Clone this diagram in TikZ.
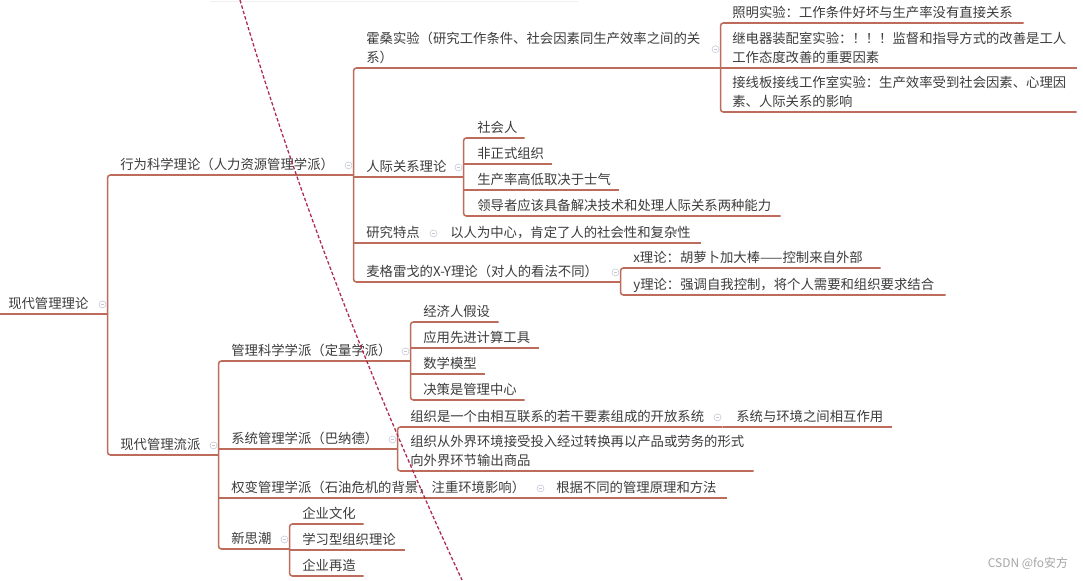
\documentclass[tikz,border=0pt]{standalone}
\usepackage{fontspec}
\newfontfamily\cjk{Noto Sans CJK SC}
\newlength{\pxw}
\setlength{\pxw}{0.025cm}
\definecolor{branchred}{RGB}{189,108,92}
\definecolor{textgray}{RGB}{60,60,60}
\definecolor{foldgray}{RGB}{195,200,214}
\definecolor{markred}{RGB}{176,40,80}

\begin{document}
\begin{tikzpicture}
[x=0.025cm,y=-0.025cm,
 topic/.style={anchor=south west,inner xsep=0pt,inner ysep=0pt,align=left,text=textgray,
   font=\cjk\fontsize{9.5pt}{13.2pt}\selectfont,
   execute at begin node=\strut,execute at end node=\strut},
 branch/.style={draw=branchred,line width=1.1pt,rounded corners=2pt},
 fold/.style={circle,draw=foldgray,line width=0.4pt,minimum size=5pt,inner sep=0pt,
   path picture={\draw[foldgray] ([xshift=-1.3pt]path picture bounding box.center) -- ([xshift=1.3pt]path picture bounding box.center);}}]
\fill[white] (0,0) rectangle (1083,580);
\useasboundingbox (0,0) rectangle (1083,580);
\draw[black!6] (210,1) -- (578,1);
\node[topic,text width=99\pxw] (root) at (8,314) {现代管理理论};
\node[topic,text width=233\pxw] (xw) at (120,175) {行为科学理论（人力资源管理学派）};
\node[topic,text width=98\pxw] (xp) at (120,455) {现代管理流派};
\node[topic,text width=354\pxw] (hs) at (366,68) {霍桑实验（研究工作条件、社会因素同生产效率之间的关\\系）};
\node[topic,text width=97\pxw] (rj) at (366,177) {人际关系理论};
\node[topic,text width=72\pxw] (yj) at (366,243) {研究特点};
\node[topic,text width=254\pxw] (mg) at (366,282) {麦格雷戈的X-Y理论（对人的看法不同）};
\node[topic,text width=291\pxw] (zm) at (732,23) {照明实验：工作条件好坏与生产率没有直接关系};
\node[topic,text width=344\pxw] (jd) at (732,68) {继电器装配室实验：！！！监督和指导方式的改善是工人\\工作态度改善的重要因素};
\node[topic,text width=344\pxw] (jx) at (732,112) {接线板接线工作室实验：生产效率受到社会因素、心理因\\素、人际关系的影响};
\node[topic,text width=47\pxw] (sh) at (477,138) {社会人};
\node[topic,text width=74\pxw] (fz) at (477,164) {非正式组织};
\node[topic,text width=141\pxw] (sc) at (477,190) {生产率高低取决于士气};
\node[topic,text width=303\pxw] (ld) at (477,216) {领导者应该具备解决技术和处理人际关系两种能力};
\node[topic,text width=250\pxw] (yr) at (450,243) {以人为中心，肯定了人的社会性和复杂性};
\node[topic,text width=247\pxw] (xl) at (633,268) {x理论：胡萝卜加大棒——控制来自外部};
\node[topic,text width=312\pxw] (yl) at (633,295) {y理论：强调自我控制，将个人需要和组织要求结合};
\node[topic,text width=179\pxw] (gk) at (231,361) {管理科学学派（定量学派）};
\node[topic,text width=166\pxw] (xt) at (231,449) {系统管理学派（巴纳德）};
\node[topic,text width=314\pxw] (qb) at (231,498) {权变管理学派（石油危机的背景，注重环境影响）};
\node[topic,text width=58\pxw] (xs) at (231,549) {新思潮};
\node[topic,text width=75\pxw] (jj) at (423,322) {经济人假设};
\node[topic,text width=115\pxw] (yy) at (423,348) {应用先进计算工具};
\node[topic,text width=61\pxw] (sx) at (423,374) {数学模型};
\node[topic,text width=101\pxw] (jc) at (423,400) {决策是管理中心};
\node[topic,text width=312\pxw] (zz) at (410,427) {组织是一个由相互联系的若干要素组成的开放系统};
\node[topic,text width=343\pxw] (zw) at (410,471) {组织从外界环境接受投入经过转换再以产品或劳务的形式\\向外界环节输出商品};
\node[topic,text width=155\pxw] (hx) at (736,427) {系统与环境之间相互作用};
\node[topic,text width=170\pxw] (gj) at (556,498) {根据不同的管理原理和方法};
\node[topic,text width=61\pxw] (qw) at (302,524) {企业文化};
\node[topic,text width=102\pxw] (xx) at (302,550) {学习型组织理论};
\node[topic,text width=61\pxw] (qz) at (302,576) {企业再造};
\node[anchor=east,text=black!35,font=\cjk\fontsize{8.5pt}{10pt}\selectfont] (mark) at (1073,563) {CSDN @fo安方};
\draw[branch] ([xshift=-5.7pt]root.south west) -- (root.south east);
\foreach \from/\first/\last in {root/xw/xp,xw/hs/mg,hs/zm/jx,rj/sh/ld,mg/xl/yl,xp/gk/xs,gk/jj/jc,xt/zz/zw,xs/qw/qz}
\draw[branch] (\first.south east) -- (\from.south east |- \first.south) -- (\from.south east |- \last.south) -- (\last.south east);
\foreach \from/\to in {xw/rj,xw/yj,hs/jd,rj/fz,rj/sc,gk/yy,gk/sx,xp/xt,xp/qb,xs/xx,yj/yr,qb/gj,zz/hx}
\draw[branch] (\from.south east |- \to.south) -- (\to.south east);
\foreach \n in {root,xw,xp,hs,rj,yj,mg,gk,xt,qb,xs,zz}
\node[fold] at ([xshift=-3.6pt]\n.east) {};
\draw[markred,line width=0.9pt,dash pattern=on 2.5pt off 1.5pt] (240,0) .. controls (290,170) and (360,360) .. (462,580);
\end{tikzpicture}
\end{document}
